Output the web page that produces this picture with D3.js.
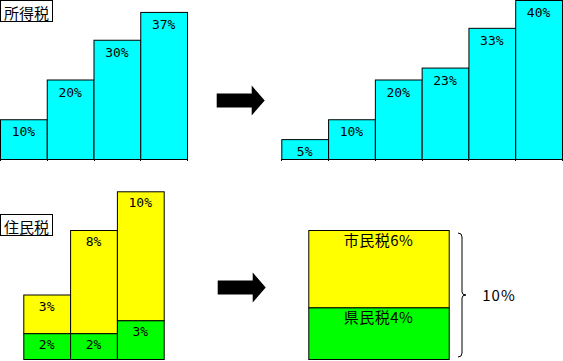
<!DOCTYPE html>
<html>
<head>
<meta charset="utf-8">
<script src="https://cdn.jsdelivr.net/npm/d3@7"></script>
<style>
  body { margin: 0; background: #fff; }
  text { font-family: "DejaVu Sans Mono", monospace; font-size: 13px; fill: #000; }
  .jp { font-family: "Noto Sans CJK JP", sans-serif; }
</style>
</head>
<body>
<svg id="chart" width="563" height="361"></svg>
<script>
// data
const incomeBeforeCats = ["a", "b", "c", "d"];
const incomeBefore = [10, 20, 30, 37];
const incomeAfterCats = ["a", "b", "c", "d", "e", "f"];
const incomeAfter = [5, 10, 20, 23, 33, 40];
const residentCats = ["a", "b", "c"];
const residentPref = [2, 2, 3];     // green
const residentCity = [3, 8, 10];    // yellow
const newPref = 4;
const newCity = 6;
const titles = ["所得税", "住民税"];

const cyan = "#00ffff", yellow = "#ffff00", green = "#00ff00";

let svg = d3.select("#chart");

// shared y scales
const yTop = d3.scaleLinear().domain([0, 40]).range([159, 0]);
const yBot = d3.scaleLinear().domain([0, 13]).range([359, 191.3]);

function simpleBars(cats, vals, x0, x1) {
    const x = d3.scaleBand().domain(cats).range([x0, x1]).padding(0);
    const g = svg.append("g");
    g.selectAll("rect")
        .data(vals)
        .enter().append("rect")
        .attr("x", (d, i) => x(cats[i]) + 0.5)
        .attr("y", d => yTop(d) + 0.5)
        .attr("width", x.bandwidth())
        .attr("height", d => yTop(0) - yTop(d))
        .attr("fill", cyan)
        .attr("stroke", "#000");
    g.selectAll("text")
        .data(vals)
        .enter().append("text")
        .attr("x", (d, i) => x(cats[i]) + x.bandwidth() / 2)
        .attr("y", d => yTop(d) + 17)
        .attr("text-anchor", "middle")
        .text(d => d + "%");
    // baseline with small ticks at bar edges
    const edges = cats.map(c => x(c)).concat([x1]);
    g.append("line")
        .attr("x1", x0).attr("x2", x1)
        .attr("y1", yTop(0) + 0.5).attr("y2", yTop(0) + 0.5)
        .attr("stroke", "#000");
    g.selectAll(".tick")
        .data(edges)
        .enter().append("line")
        .attr("x1", d => Math.round(d) + 0.5).attr("x2", d => Math.round(d) + 0.5)
        .attr("y1", yTop(0)).attr("y2", yTop(0) + 2)
        .attr("stroke", "#000");
}

simpleBars(incomeBeforeCats, incomeBefore, 0, 187);
simpleBars(incomeAfterCats, incomeAfter, 281.3, 562);

// resident tax stacked bars
const xr = d3.scaleBand().domain(residentCats).range([23.3, 163.7]).padding(0);
const gr = svg.append("g");
residentCats.forEach((c, i) => {
    const p = residentPref[i], m = residentCity[i];
    gr.append("rect")
        .attr("x", xr(c) + 0.5).attr("y", yBot(p + m) + 0.5)
        .attr("width", xr.bandwidth()).attr("height", yBot(p) - yBot(p + m))
        .attr("fill", yellow).attr("stroke", "#000");
    gr.append("rect")
        .attr("x", xr(c) + 0.5).attr("y", yBot(p) + 0.5)
        .attr("width", xr.bandwidth()).attr("height", yBot(0) - yBot(p))
        .attr("fill", green).attr("stroke", "#000");
    gr.append("text")
        .attr("x", xr(c) + xr.bandwidth() / 2).attr("y", yBot(p + m) + 16)
        .attr("text-anchor", "middle").text(m + "%");
    gr.append("text")
        .attr("x", xr(c) + xr.bandwidth() / 2).attr("y", yBot(p) + 16)
        .attr("text-anchor", "middle").text(p + "%");
});

// new resident tax (single stacked bar)
const xn = d3.scaleBand().domain(["new"]).range([308.3, 448.7]).padding(0);
const gn = svg.append("g");
gn.append("rect")
    .attr("x", xn("new") + 0.5).attr("y", yBot(newPref + newCity) + 0.5)
    .attr("width", xn.bandwidth()).attr("height", yBot(newPref) - yBot(newPref + newCity))
    .attr("fill", yellow).attr("stroke", "#000");
gn.append("rect")
    .attr("x", xn("new") + 0.5).attr("y", yBot(newPref) + 0.5)
    .attr("width", xn.bandwidth()).attr("height", yBot(0) - yBot(newPref))
    .attr("fill", green).attr("stroke", "#000");
gn.append("text").attr("class", "jp")
    .attr("x", xn("new") + xn.bandwidth() / 2).attr("y", yBot(newPref + newCity) + 16)
    .attr("text-anchor", "middle").style("font-size", "15px").style("letter-spacing", "0.5px")
    .text("市民税" + newCity + "%");
gn.append("text").attr("class", "jp")
    .attr("x", xn("new") + xn.bandwidth() / 2).attr("y", yBot(newPref) + 16)
    .attr("text-anchor", "middle").style("font-size", "15px").style("letter-spacing", "0.5px")
    .text("県民税" + newPref + "%");

// brace and total
const bTop = yBot(newPref + newCity) + 3, bBot = yBot(0) - 2, bMid = (bTop + bBot) / 2;
svg.append("path")
    .attr("d", `M458,${bTop} Q462,${bTop} 462,${bTop + 4} L462,${bMid - 3} Q462,${bMid} 466,${bMid}` +
        ` Q462,${bMid} 462,${bMid + 3} L462,${bBot - 4} Q462,${bBot} 458,${bBot}`)
    .attr("fill", "none").attr("stroke", "#000");
svg.append("text").attr("class", "jp")
    .attr("x", 499).attr("y", bMid + 6)
    .attr("text-anchor", "middle").style("font-size", "15px").style("letter-spacing", "1px")
    .text((newPref + newCity) + "%");

// arrows
function arrow(x, yc) {
    svg.append("path")
        .attr("d", `M${x},${yc - 7} L${x + 35},${yc - 7} L${x + 35},${yc - 15} L${x + 48},${yc}` +
            ` L${x + 35},${yc + 15} L${x + 35},${yc + 7} L${x},${yc + 7} Z`)
        .attr("fill", "#000");
}
arrow(216.7, 100.5);
arrow(217.7, 287.5);

// title boxes
function titleBox(txt, y) {
    svg.append("rect")
        .attr("x", 0.5).attr("y", y + 0.5).attr("width", 52).attr("height", 21)
        .attr("fill", "#fff").attr("stroke", "#000");
    svg.append("text").attr("class", "jp")
        .attr("x", 26.5).attr("y", y + 18.5)
        .attr("text-anchor", "middle").style("font-size", "15px")
        .text(txt);
}
titleBox(titles[0], 0);
titleBox(titles[1], 214);
</script>
</body>
</html>
